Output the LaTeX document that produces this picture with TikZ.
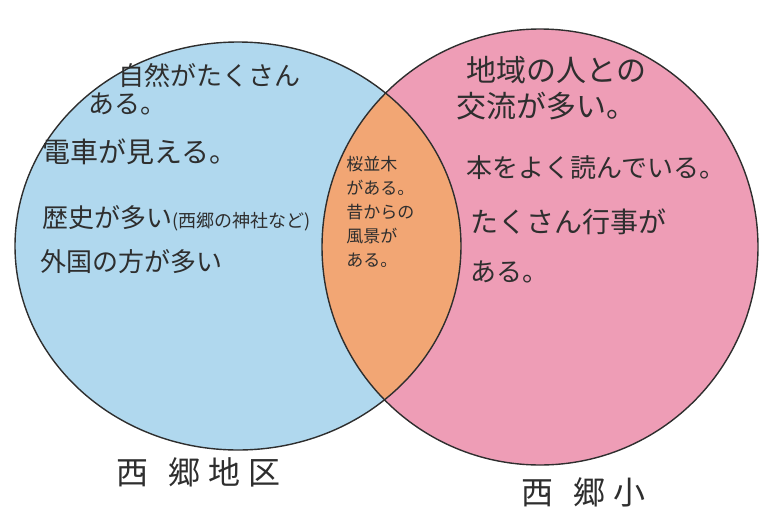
\documentclass[tikz,border=0pt]{standalone}
\usepackage{fontspec}
\newfontfamily\jp{Noto Sans CJK JP}
\usetikzlibrary{positioning}
\definecolor{skyblue}{HTML}{B0D8EE}
\definecolor{rosepink}{HTML}{EE9DB6}
\definecolor{lensorange}{HTML}{F2A674}
\definecolor{pencil}{HTML}{2E2E2E}

\begin{document}
\begin{tikzpicture}[x=0.5pt,y=-0.5pt,note/.style={anchor=west,inner sep=0pt,text=pencil,font=\jp\fontsize{13}{15}\selectfont},small/.style={note,font=\jp\fontsize{8.5}{12}\selectfont,align=left},place/.style={inner sep=0pt,text=pencil,font=\jp\fontsize{16}{18}\selectfont}]
\useasboundingbox (0,0) rectangle (766,525);
% the two sets
\fill[skyblue] (238,246) ellipse [x radius=223,y radius=204];
\fill[rosepink] (540,247) ellipse [x radius=218,y radius=218];
\begin{scope}
\clip (238,246) ellipse [x radius=223,y radius=204];
\fill[lensorange] (540,247) ellipse [x radius=218,y radius=218];
\end{scope}
\draw[pencil,line width=0.7pt] (238,246) ellipse [x radius=223,y radius=204];
\draw[pencil,line width=0.7pt] (540,247) ellipse [x radius=218,y radius=218];
% left set
\node[note] (nature) at (118,76) {自然がたくさん};
\node[note] (nature2) at (88,104) {ある。};
\node[note,font=\jp\fontsize{14}{16}\selectfont] (train) at (42,152) {電車が見える。};
\node[note] (history) at (42,218) {歴史が多い\fontsize{9}{10}\selectfont(西郷の神社など)};
\node[note] (foreign) at (40,262) {外国の方が多い};
% both
\node[small] (both) at (346,212) {桜並木\\がある。\\昔からの\\風景が\\ある。};
% right set
\node[note,font=\jp\fontsize{15}{17}\selectfont] (people) at (466,70) {地域の人との};
\node[note,font=\jp\fontsize{15}{17}\selectfont] (people2) at (456,106) {交流が多い。};
\node[note] (books) at (466,168) {本をよく読んでいる。};
\node[note,font=\jp\fontsize{14}{16}\selectfont] (events) at (470,222) {たくさん行事が};
\node[note] (events2) at (470,272) {ある。};
% set names
\node[place] (district) at (198,472) {西\hspace{10pt}郷\hspace{4pt}地\hspace{4pt}区};
\node[place] (school) at (583,492) {西\hspace{10pt}郷\hspace{4pt}小};
\end{tikzpicture}
\end{document}
